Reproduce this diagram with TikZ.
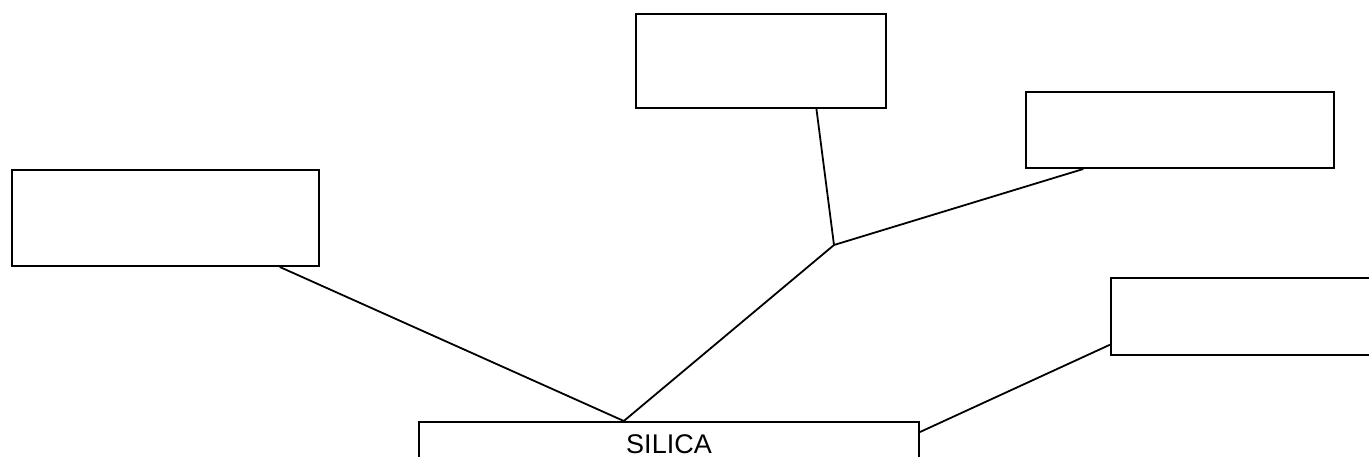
\documentclass[tikz,border=0pt]{standalone}
\usepackage{fontspec}
\setmainfont{Liberation Sans}
\usetikzlibrary{calc}
\begin{document}
\begin{tikzpicture}[x=1pt,y=-1pt,
  box/.style={draw=black, line width=2pt, fill=white, rectangle, inner sep=0pt, anchor=north west},
  link/.style={draw=black, line width=1.8pt}]
\useasboundingbox (0,0) rectangle (1369,457);
\clip (0,0) rectangle (1369,457);
\node[box, minimum width=250pt, minimum height=94pt] (top) at (635,13) {};
\node[box, minimum width=308pt, minimum height=76pt] (rtop) at (1025,91) {};
\node[box, minimum width=307pt, minimum height=96pt] (left) at (11,169) {};
\node[box, minimum width=320pt, minimum height=77pt] (right) at (1110,277) {};
\node[box, minimum width=500pt, minimum height=44pt, font=\fontsize{27}{30}\selectfont] (silica) at (418,421) {SILICA};
\coordinate (J) at (834,245);
\draw[link] ($(top.south west)!0.72!(top.south east)$) -- (J);
\draw[link] (J) -- ($(rtop.south west)!0.188!(rtop.south east)$);
\draw[link] (J) -- ($(silica.north west)!0.41!(silica.north east)$);
\draw[link] ($(left.south west)!0.87!(left.south east)$) -- ($(silica.north west)!0.41!(silica.north east)$);
\draw[link] ($(right.north west)!0.857!(right.south west)$) -- ($(silica.north east)+(0,11)$);
\end{tikzpicture}
\end{document}
